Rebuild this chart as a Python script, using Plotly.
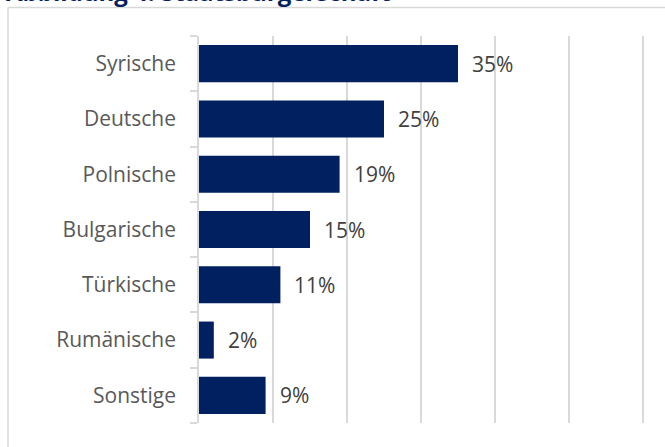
import plotly.graph_objects as go

# Staatsbürgerschaft – Anteile in Prozent
categories = ["Syrische", "Deutsche", "Polnische", "Bulgarische", "Türkische", "Rumänische", "Sonstige"]
shares = [35, 25, 19, 15, 11, 2, 9]
value_labels = [f"{v}%" for v in shares]

title_text = "Abbildung 4: Staatsbürgerschaft"

W, H = 665, 447
ML, MR, MT, MB = 199, 20, 36, 24
PW, PH = W - ML - MR, H - MT - MB
X_MAX = 60.27  # a touch past 60 so the last gridline is drawn

BAR_COLOR = "#002060"
GRID = "#d9d9d9"
FONT = "Open Sans"

fig = go.Figure()
fig.add_trace(go.Bar(
    x=shares,
    y=categories,
    orientation="h",
    marker=dict(color=BAR_COLOR, line=dict(width=0)),
    hoverinfo="skip",
))

# value labels right of each bar
for cat, v, lab in zip(categories, shares, value_labels):
    fig.add_annotation(
        x=v, y=cat, xref="x", yref="y",
        text=lab, showarrow=False,
        xanchor="left", yanchor="middle", xshift=12,
        font=dict(family=FONT, size=21, color="#404040"),
    )

def px_x(p):
    return (p - ML) / PW

def px_y(p):
    return 1 - (p - MT) / PH

# outer chart frame (top and left edges)
fig.add_shape(type="line", xref="paper", yref="paper",
              x0=px_x(8), x1=px_x(700), y0=px_y(7.5), y1=px_y(7.5),
              line=dict(color=GRID, width=1.5))
fig.add_shape(type="line", xref="paper", yref="paper",
              x0=px_x(8), x1=px_x(8), y0=px_y(7.5), y1=px_y(480),
              line=dict(color=GRID, width=1.5))

# heading
fig.add_annotation(
    x=px_x(4), y=px_y(10.5), xref="paper", yref="paper",
    text=f"<b>{title_text}</b>", showarrow=False,
    xanchor="left", yanchor="bottom",
    font=dict(family=FONT, size=24, color=BAR_COLOR),
)

fig.update_layout(
    width=W, height=H,
    margin=dict(l=ML, r=MR, t=MT, b=MB),
    paper_bgcolor="white",
    plot_bgcolor="white",
    showlegend=False,
    bargap=0.33,
    font=dict(family=FONT),
    xaxis=dict(
        range=[0, X_MAX], dtick=10, tick0=0,
        showgrid=True, gridcolor=GRID, gridwidth=1.5,
        showticklabels=False, zeroline=False, showline=False, ticks="",
        fixedrange=True,
    ),
    yaxis=dict(
        categoryorder="array", categoryarray=categories[::-1],
        autorange=False, range=[-0.5, len(categories) - 0.5],
        showline=True, linecolor=GRID, linewidth=1.5,
        ticks="outside", tickson="boundaries", ticklen=7, tickcolor=GRID, tickwidth=1.5,
        tickfont=dict(family=FONT, size=21, color="#595959"),
        ticklabelstandoff=17,
        showgrid=False, zeroline=False,
        fixedrange=True,
    ),
)

fig.write_html("out.html")
